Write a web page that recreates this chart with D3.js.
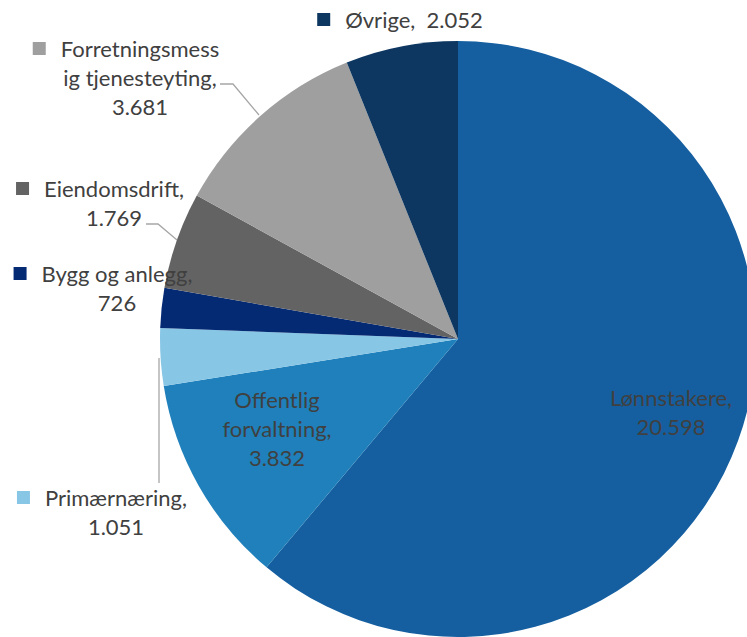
<!DOCTYPE html>
<html>
<head>
<meta charset="utf-8">
<script src="https://cdn.jsdelivr.net/npm/d3@7"></script>
<style>
  body { margin: 0; background: #fff; }
  svg text { font-family: Lato, "Open Sans", sans-serif; fill: #404040; }
</style>
</head>
<body>
<svg id="chart" width="747" height="637"></svg>
<script>
const categories = [
  "Lønnstakere",
  "Offentlig forvaltning",
  "Primærnæring",
  "Bygg og anlegg",
  "Eiendomsdrift",
  "Forretningsmessig tjenesteyting",
  "Øvrige"
];
const values = [20598, 3832, 1051, 726, 1769, 3681, 2052];
const colors = ["#155fa0", "#1f80bb", "#88c6e6", "#042a74", "#636363", "#9f9f9f", "#0d3761"];

// norwegian number format: 20.598
const nb = d3.formatLocale({ decimal: ",", thousands: ".", grouping: [3], currency: ["", " kr"] });
const fmt = nb.format(",");

// label placement, as Excel put them
const labelLayout = {
  "Lønnstakere":          { inside: true, x: 671, y: 406, lines: ["Lønnstakere,", "{v}"] },
  "Offentlig forvaltning":{ inside: true, x: 277, y: 408, lines: ["Offentlig", "forvaltning,", "{v}"] },
  "Primærnæring":         { x: 116, y: 506, key: true, lines: ["Primærnæring,", "{v}"],
                            leader: [[159, 483], [159, 358]] },
  "Bygg og anlegg":       { x: 117, y: 282, key: true, lines: ["Bygg og anlegg,", "{v}"] },
  "Eiendomsdrift":        { x: 114, y: 197, key: true, lines: ["Eiendomsdrift,", "{v}"],
                            leader: [[146, 224], [158, 224], [177, 240]] },
  "Forretningsmessig tjenesteyting": { x: 140, y: 57, key: true, lines: ["Forretningsmess", "ig tjenesteyting,", "{v}"],
                            leader: [[220, 84], [233, 84], [259, 115]] },
  "Øvrige":               { x: 414, y: 28, key: true, lines: ["Øvrige,  {v}"] }
};

const svg = d3.select("#chart");
const cx = 458, cy = 339, radius = 298;
const lineH = 29;

const pie = d3.pie().sort(null).value(d => d.value);
const arc = d3.arc().innerRadius(0).outerRadius(radius);

const data = categories.map((c, i) => ({ name: c, value: values[i], color: colors[i] }));

const g = svg.append("g").attr("transform", `translate(${cx},${cy})`);

g.selectAll("path")
  .data(pie(data))
  .enter()
  .append("path")
  .attr("d", arc)
  .attr("fill", d => d.data.color);

// leader lines
data.forEach(d => {
  const lay = labelLayout[d.name];
  if (!lay.leader) return;
  svg.append("path")
    .attr("d", d3.line()(lay.leader))
    .attr("fill", "none")
    .attr("stroke", "#a6a6a6")
    .attr("stroke-width", 1.3);
});

// labels
data.forEach(d => {
  const lay = labelLayout[d.name];
  const grp = svg.append("g");
  let firstText = null;
  lay.lines.forEach((ln, i) => {
    const t = grp.append("text")
      .attr("x", lay.x)
      .attr("y", lay.y + i * lineH)
      .attr("text-anchor", "middle")
      .style("font-size", "22px")
      .style("white-space", "pre")
      .text(ln.replace("{v}", fmt(d.value)));
    if (i === 0) firstText = t;
  });
  if (lay.key) {
    const w = firstText.node().getComputedTextLength();
    grp.append("rect")
      .attr("x", lay.x - w / 2 - 28)
      .attr("y", lay.y - 15)
      .attr("width", 13)
      .attr("height", 13)
      .attr("fill", d.color);
  }
});
</script>
</body>
</html>
